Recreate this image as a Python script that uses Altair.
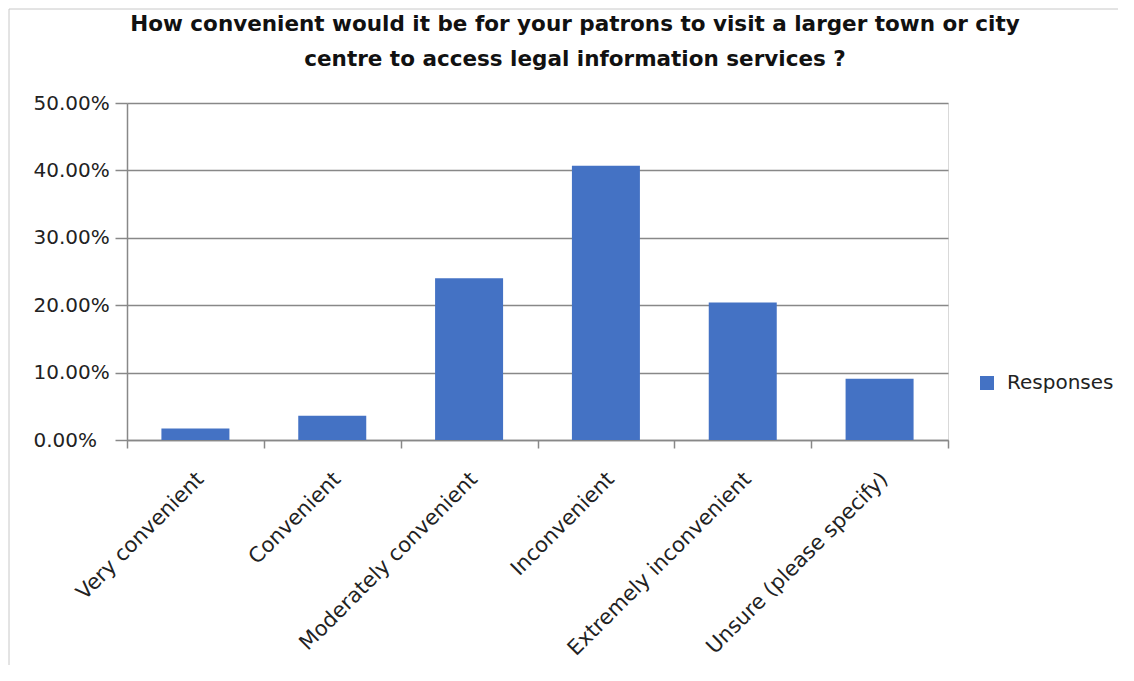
import altair as alt
import pandas as pd

categories = ["Very convenient", "Convenient", "Moderately convenient",
              "Inconvenient", "Extremely inconvenient", "Unsure (please specify)"]
values = [0.017, 0.036, 0.240, 0.407, 0.204, 0.091]
series = ["Responses"] * len(categories)
y_ticks = [0.0, 0.1, 0.2, 0.3, 0.4, 0.5]
title_lines = ["How convenient would it be for your patrons to visit a larger town or city",
               "centre to access legal information services ?"]

df = pd.DataFrame({"category": categories, "value": values, "series": series})
one = pd.DataFrame({"k": [0]})

FONT = "DejaVu Sans"

bars = alt.Chart(df).mark_bar(size=68).encode(
    x=alt.X("category:N", sort=categories, title=None,
            scale=alt.Scale(paddingInner=0, paddingOuter=0),
            axis=alt.Axis(labelAngle=-45, labelAlign="right", labelBaseline="top",
                          labelOffset=-3, labelPadding=20, tickBand="extent",
                          labelLimit=0,
                          tickSize=8, tickColor="#888888", tickWidth=1.5,
                          domainColor="#888888", domainWidth=1.5,
                          labelFont=FONT, labelFontSize=21, labelColor="#222222",
                          grid=False)),
    y=alt.Y("value:Q", title=None,
            scale=alt.Scale(domain=[0, 0.5], nice=False),
            axis=alt.Axis(values=y_ticks, format=".2%", labelAlign="left",
                          labelPadding=82, tickSize=12, tickColor="#888888",
                          tickWidth=1.5, domainColor="#888888", domainWidth=1.5,
                          gridColor="#888888", gridWidth=1.5,
                          labelFont=FONT, labelFontSize=20, labelColor="#222222")),
    color=alt.Color("series:N", scale=alt.Scale(range=["#4472C4"]),
                    legend=alt.Legend(title=None, orient="none", legendX=850, legendY=270,
                                      symbolType="square", symbolSize=196,
                                      symbolStrokeWidth=0, labelFont=FONT,
                                      labelFontSize=20, labelColor="#222222",
                                      labelOffset=10)),
)

frame = alt.Chart(one).mark_rect(fill=None, stroke="#c8c8c8", strokeWidth=1).encode(
    x=alt.value(-118), y=alt.value(-94), x2=alt.value(1200), y2=alt.value(800)
)

title = alt.Chart(one).mark_text(font=FONT, fontSize=21.5, fontWeight="bold",
                                 color="#111111", align="center", baseline="middle",
                                 lineHeight=35).encode(
    x=alt.value(448), y=alt.value(-78), text=alt.value(title_lines)
)

chart = alt.layer(frame, title, bars).properties(
    width=821, height=337,
    padding={"left": 119, "top": 95, "right": 170, "bottom": 225},
    autosize="none",
).configure_view(stroke="#d9d9d9")

chart.save("out.html", embed_options={"renderer": "svg", "actions": False})
